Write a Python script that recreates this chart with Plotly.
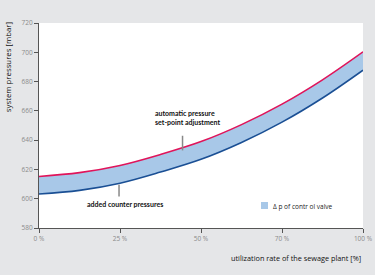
import plotly.graph_objects as go

utilization = [0, 12.5, 25, 37.5, 50, 62.5, 75, 87.5, 100]
setpoint = [615.2, 617.8, 622.7, 630.2, 639.0, 650.6, 664.6, 681.2, 700.3]
counter = [603.2, 605.7, 610.6, 618.2, 626.9, 638.4, 652.3, 668.8, 687.8]
x_tickvals = [0, 25, 50, 75, 100]
x_ticktext = ["0 %", "25 %", "50 %", "70 %", "100 %"]
y_tickvals = [580, 600, 620, 640, 660, 680, 700, 720]

RED = "#e0145a"
BLUE = "#1a4f94"
FILL = "#a8c8e8"
TICKC = "#8a8a8a"
AXC = "#555555"
FONT = "Open Sans"
CFONT = "Lato"

fig = go.Figure()
fig.add_trace(go.Scatter(x=utilization, y=counter, mode="lines", line=dict(color=BLUE, width=1.6, shape="spline"),
                         showlegend=False, hoverinfo="skip"))
fig.add_trace(go.Scatter(x=utilization, y=setpoint, mode="lines", line=dict(color=RED, width=1.6, shape="spline"),
                         fill="tonexty", fillcolor=FILL, showlegend=False, hoverinfo="skip"))

# legend swatch
fig.add_shape(type="rect", xref="paper", yref="paper", x0=(261-39)/324, x1=(268-39)/324,
              y0=(228-209)/205, y1=(228-202)/205, fillcolor=FILL, line=dict(width=0))
fig.add_annotation(xref="paper", yref="paper", x=(271-39)/324, y=(228-206)/205, text="Δ p of contr ol valve",
                   showarrow=False, xanchor="left", yanchor="middle", font=dict(family=FONT, size=6.5, color="#222"))

# callouts
fig.add_shape(type="line", x0=44.3, x1=44.3, y0=633, y1=643, line=dict(color="#888", width=1.5))
fig.add_annotation(x=45.8, y=648, text="<b>automatic pressure<br>set-point adjustment</b>", showarrow=False,
                   xanchor="center", yanchor="bottom", align="left",
                   font=dict(family=CFONT, size=7, color="#111"))
fig.add_shape(type="line", x0=24.7, x1=24.7, y0=601.5, y1=609.5, line=dict(color="#888", width=1.5))
fig.add_annotation(x=26.4, y=600.3, text="<b>added counter pressures</b>", showarrow=False,
                   xanchor="center", yanchor="top",
                   font=dict(family=CFONT, size=7, color="#111"))

fig.update_layout(
    width=375, height=275,
    margin=dict(l=39, r=12, t=23, b=47),
    paper_bgcolor="#e5e6e8", plot_bgcolor="#ffffff",
    showlegend=False,
    font=dict(family=FONT, color="#222"),
    xaxis=dict(range=[0, 100], tickvals=x_tickvals, ticktext=x_ticktext, showgrid=False, zeroline=False,
               automargin=False,
               showline=True, linecolor=AXC, linewidth=1, ticks="outside", ticklen=4, tickcolor=AXC,
               tickfont=dict(family=FONT, size=6.5, color=TICKC)),
    yaxis=dict(range=[580, 720], tickvals=y_tickvals, showgrid=False, zeroline=False,
               automargin=False,
               showline=True, linecolor=AXC, linewidth=1, ticks="outside", ticklen=4, tickcolor=AXC,
               tickfont=dict(family=FONT, size=6.5, color=TICKC)),
)
fig.add_annotation(xref="paper", yref="paper", x=1, y=-0.146, text="utilization rate of the sewage plant [%]",
                   showarrow=False, xanchor="right", yanchor="middle", font=dict(family=FONT, size=7.3, color="#111"))
fig.add_annotation(xref="paper", yref="paper", x=-0.095, y=1.015, text="system pressures [mbar]", textangle=-90,
                   showarrow=False, xanchor="center", yanchor="top", font=dict(family=FONT, size=7.8, color="#111"))

fig.write_html("out.html")
